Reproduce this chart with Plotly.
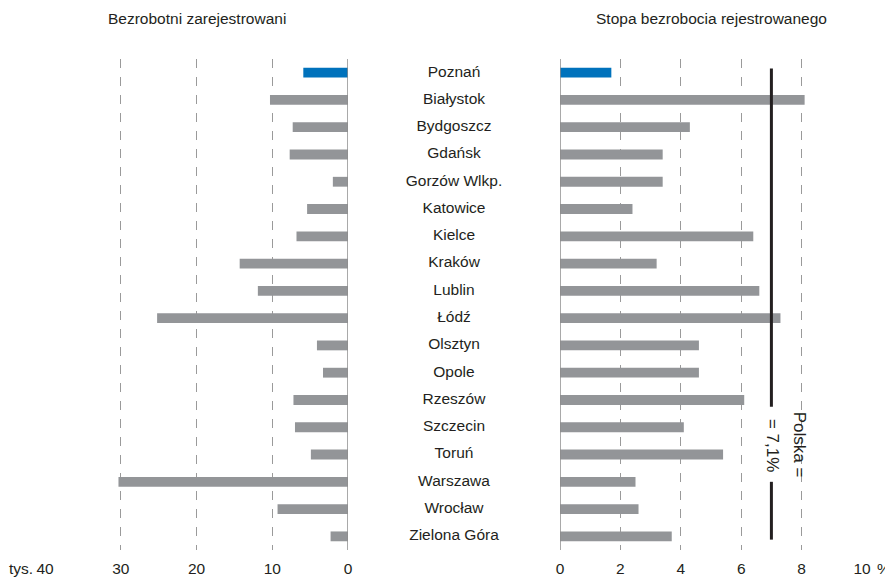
import plotly.graph_objects as go

# dane
cities = ["Poznań", "Białystok", "Bydgoszcz", "Gdańsk", "Gorzów Wlkp.", "Katowice",
          "Kielce", "Kraków", "Lublin", "Łódź", "Olsztyn", "Opole", "Rzeszów",
          "Szczecin", "Toruń", "Warszawa", "Wrocław", "Zielona Góra"]
unemployed = [5.9, 10.3, 7.3, 7.7, 2.0, 5.4, 6.8, 14.3, 11.9, 25.2,
              4.1, 3.3, 7.2, 7.0, 4.9, 30.3, 9.3, 2.3]  # tys.
rate = [1.7, 8.1, 4.3, 3.4, 3.4, 2.4, 6.4, 3.2, 6.6, 7.3,
        4.6, 4.6, 6.1, 4.1, 5.4, 2.5, 2.6, 3.7]  # %
poland_rate = 7.0

left_ticks = [40, 30, 20, 10, 0]
right_ticks = [0, 2, 4, 6, 8, 10]

FONT = "Liberation Sans, Arial, sans-serif"
FS = 15.5
GRAY = "#939598"
BLUE = "#0072bc"
GRID = "#9a9a9a"
TEXT = "#231f20"

# strona ma margines 8px, więc figura jest mniejsza
W, H = 885, 572
TOP, PLOT_H = 51, 491

colors = [BLUE if c == "Poznań" else GRAY for c in cities]

fig = go.Figure()

fig.add_trace(go.Bar(
    x=unemployed, y=cities, orientation="h",
    marker=dict(color=colors, line=dict(width=0)),
    width=0.36, xaxis="x", yaxis="y", hoverinfo="x+y",
))

fig.add_trace(go.Bar(
    x=rate, y=cities, orientation="h",
    marker=dict(color=colors, line=dict(width=0)),
    width=0.36, xaxis="x2", yaxis="y", hoverinfo="x+y",
))

# nazwy miast w środku
fig.add_trace(go.Scatter(
    x=[0] * len(cities), y=cities, text=cities, mode="text",
    textfont=dict(family=FONT, size=FS, color=TEXT),
    xaxis="x3", yaxis="y", hoverinfo="skip",
))

axis_common = dict(
    showgrid=True, gridcolor=GRID, griddash="dash", gridwidth=1,
    zeroline=False, showline=False, ticks="outside", ticklen=4,
    tickcolor="rgba(0,0,0,0)",
    tickfont=dict(family=FONT, size=FS, color=TEXT),
    tickmode="array", fixedrange=True, automargin=False,
)

fig.update_layout(
    width=W, height=H,
    paper_bgcolor="white", plot_bgcolor="white",
    margin=dict(l=0, r=0, t=TOP, b=H - TOP - PLOT_H, autoexpand=False),
    showlegend=False,
    font=dict(family=FONT, color=TEXT),
    xaxis=dict(axis_common, domain=[37 / W, 340 / W], range=[40, 0],
               tickvals=left_ticks, ticktext=[str(v) for v in left_ticks]),
    xaxis2=dict(axis_common, domain=[552 / W, 854 / W], range=[0, 10],
                tickvals=right_ticks, ticktext=[str(v) for v in right_ticks]),
    xaxis3=dict(domain=[340 / W, 552 / W], range=[-1, 1], visible=False,
                fixedrange=True),
    yaxis=dict(type="category", range=[17.5, -0.5], showgrid=False,
               zeroline=False, showticklabels=False, ticks="", fixedrange=True,
               automargin=False),
    shapes=[
        # linie zerowe
        dict(type="line", xref="x", yref="paper", x0=0, x1=0, y0=0, y1=1,
             line=dict(color="#8c8c8c", width=1.5)),
        dict(type="line", xref="x2", yref="paper", x0=0, x1=0, y0=0, y1=1,
             line=dict(color="#8c8c8c", width=1.5)),
        # Polska
        dict(type="line", xref="x2", yref="y", x0=poland_rate, x1=poland_rate,
             y0=-0.15, y1=12.25, line=dict(color=TEXT, width=3)),
        dict(type="line", xref="x2", yref="y", x0=poland_rate, x1=poland_rate,
             y0=15.0, y1=17.12, line=dict(color=TEXT, width=3)),
    ],
    annotations=[
        dict(text="Bezrobotni zarejestrowani", xref="x", yref="paper",
             x=20, y=1 + (TOP - 10) / PLOT_H, xanchor="center", yanchor="middle",
             showarrow=False, font=dict(family=FONT, size=FS, color=TEXT)),
        dict(text="Stopa bezrobocia rejestrowanego", xref="x2", yref="paper",
             x=5, y=1 + (TOP - 10) / PLOT_H, xanchor="center", yanchor="middle",
             showarrow=False, font=dict(family=FONT, size=FS, color=TEXT)),
        dict(text="Polska =", xref="x2", yref="y", x=poland_rate + 0.93, y=13.66,
             textangle=90, showarrow=False,
             font=dict(family=FONT, size=17, color=TEXT)),
        dict(text="= 7,1%", xref="x2", yref="y", x=poland_rate + 0.03, y=13.66,
             textangle=90, showarrow=False,
             font=dict(family=FONT, size=17, color=TEXT)),
        dict(text="tys.", xref="paper", yref="paper", x=27 / W, y=-18 / PLOT_H,
             xanchor="right", yanchor="middle", showarrow=False,
             font=dict(family=FONT, size=FS, color=TEXT)),
        dict(text="%", xref="paper", yref="paper", x=867 / W, y=-18 / PLOT_H,
             xanchor="left", yanchor="middle", showarrow=False,
             font=dict(family=FONT, size=FS, color=TEXT)),
    ],
)

fig.write_html("out.html")
